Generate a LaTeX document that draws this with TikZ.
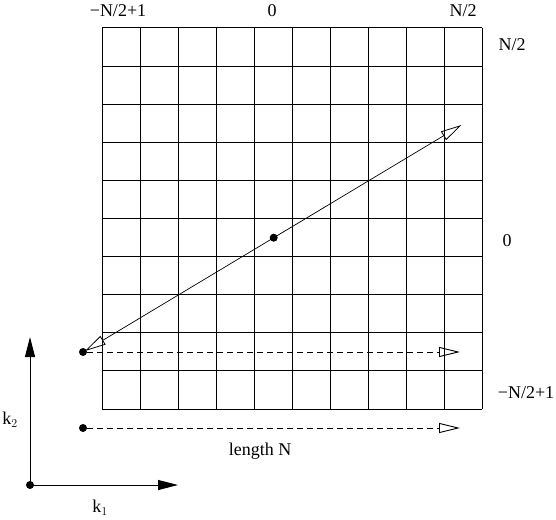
\documentclass[tikz,border=0pt]{standalone}
\usepackage{fontspec}
\setmainfont{Liberation Serif}
\usetikzlibrary{arrows.meta}
\begin{document}
\begin{tikzpicture}[x=1pt,y=-1pt,
  lbl/.style={font=\fontsize{18}{20}\selectfont, inner sep=0pt},
  dot/.style={circle, fill=black, inner sep=0pt, minimum size=8pt},
  gridline/.style={line width=1pt},
  openhead/.style={-{Triangle[open,length=21pt,width=10pt,line width=0.9pt]}},
  dasharrow/.style={line width=0.8pt, dash pattern=on 6pt off 4pt, openhead},
  diagarrow/.style={line width=0.7pt, {Triangle[open,length=21pt,width=10pt,line width=0.8pt]}-{Triangle[open,length=21pt,width=10pt,line width=0.8pt]}},
  axis/.style={line width=1pt, -{Triangle[length=20pt,width=10pt]}}]
\useasboundingbox (0,0) rectangle (556,519);
% grid
\foreach \i in {0,...,10} {
  \draw[gridline] (102+38*\i,28) -- (102+38*\i,409);
  \draw[gridline] (102,28+38.1*\i) -- (482,28+38.1*\i);
}
% dots
\node[dot] (d1) at (83,352) {};
\node[dot] (d2) at (83,428) {};
\node[dot] (c) at (273.7,237.7) {};
\node[dot] (o) at (30,485) {};
\coordinate (a1) at (85,351);
\coordinate (a2) at (461.5,125);
\coordinate (e1) at (460,352);
\coordinate (e2) at (460,428);
\coordinate (k1end) at (178,485);
\coordinate (k2end) at (30,337);
% arrows
\draw[diagarrow] (a1) -- (a2);
\draw[dasharrow] (d1) -- (e1);
\draw[dasharrow] (d2) -- (e2);
\draw[axis] (o.center) -- (k1end);
\draw[axis] (o.center) -- (k2end);
% labels
\node[lbl] (t1) at (118,11) {−N/2+1};
\node[lbl] (t2) at (272,11) {0};
\node[lbl] (t3) at (463,11) {N/2};
\node[lbl] (r1) at (512,45) {N/2};
\node[lbl] (r2) at (507,241) {0};
\node[lbl] (r3) at (526,393) {−N/2+1};
\node[lbl] (len) at (260,451) {length N};
\node[lbl] (k2) at (10,420) {k$_2$};
\node[lbl] (k1) at (100,508) {k$_1$};
\end{tikzpicture}
\end{document}
